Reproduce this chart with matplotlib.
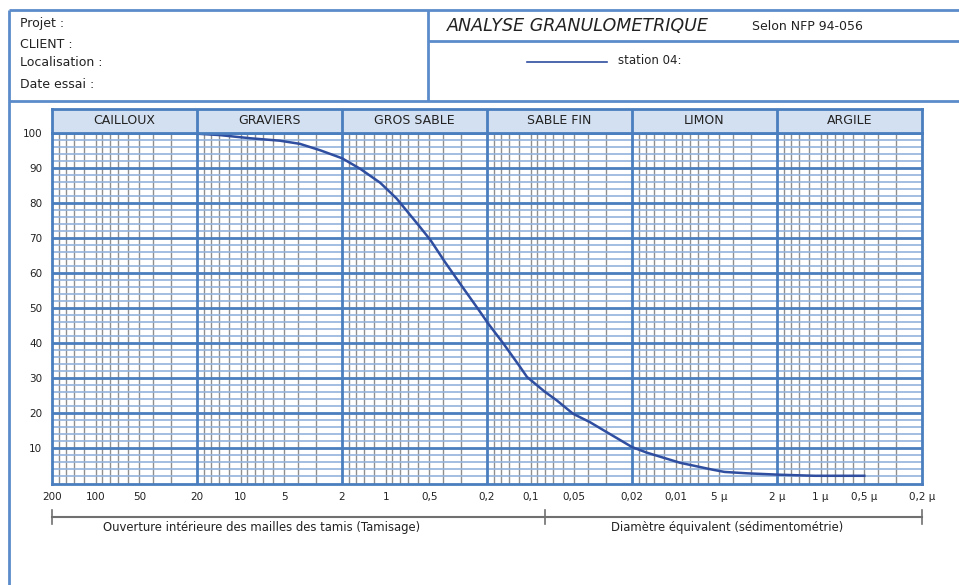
import numpy as np
import matplotlib
matplotlib.use('Agg')
import matplotlib.pyplot as plt
from matplotlib.ticker import NullLocator

# courbe granulometrique - station 04 (diametre en mm, % de passants)
diametres = [20, 13.9, 8.6, 5.35, 3.9, 2.84, 2.0, 1.5, 1.09, 0.84, 0.58, 0.49,
             0.39, 0.29, 0.236, 0.196, 0.154, 0.118, 0.106, 0.08, 0.066, 0.051,
             0.039, 0.030, 0.020, 0.0158, 0.0093, 0.0055, 0.0046, 0.0032, 0.0019,
             0.0011, 0.0005]
passants = [99.8, 99.4, 98.5, 97.8, 96.9, 95.1, 92.8, 89.8, 85.8, 81.3, 73.2, 69.4,
            63.2, 55.6, 50.4, 45.6, 39.9, 33.2, 30.4, 26.2, 23.7, 19.9,
            17.5, 14.7, 10.4, 8.8, 5.9, 3.9, 3.3, 2.9, 2.5,
            2.2, 2.2]

classes = ['CAILLOUX', 'GRAVIERS', 'GROS SABLE', 'SABLE FIN', 'LIMON', 'ARGILE']
bornes = [200, 20, 2, 0.2, 0.02, 0.002, 0.0002]
limite_tamisage = 0.08

graduations = [200, 100, 50, 20, 10, 5, 2, 1, 0.5, 0.2, 0.1, 0.05, 0.02, 0.01,
               0.005, 0.002, 0.001, 0.0005, 0.0002]
etiquettes = ['200', '100', '50', '20', '10', '5', '2', '1', '0,5', '0,2', '0,1',
              '0,05', '0,02', '0,01', '5 µ', '2 µ', '1 µ', '0,5 µ', '0,2 µ']
multiples = [1.5, 2, 2.5, 3, 3.5, 4, 4.5, 5, 6, 7, 8, 9]

BLEU = '#4a7ebf'
BLEU_CLAIR = '#93b3dd'
GRIS = '#8f8f8f'
COURBE = '#2f4ea0'
TEXTE = '#222222'

W, H = 959, 585
fig = plt.figure(figsize=(W / 100, H / 100), dpi=100)

# papier semi-log
ax = fig.add_axes([52 / W, (H - 483.5) / H, 870 / W, 350.5 / H])
ax.set_xscale('log')
ax.set_xlim(bornes[0], bornes[-1])
ax.set_ylim(0, 100)

for b in bornes[1:]:
    for m in multiples:
        ax.axvline(b * m, color=GRIS, lw=1, zorder=1)
for v in range(2, 100, 2):
    if v % 10:
        ax.axhline(v, color=BLEU_CLAIR, lw=1.2, zorder=1.5)
for v in range(10, 100, 10):
    ax.axhline(v, color=BLEU, lw=2, zorder=2)
for b in bornes[1:-1]:
    ax.axvline(b, color=BLEU, lw=2, zorder=2)
for s in ax.spines.values():
    s.set_color(BLEU)
    s.set_linewidth(2)

ax.plot(diametres, passants, color=COURBE, lw=1.8, zorder=3)

ax.xaxis.set_minor_locator(NullLocator())
ax.set_xticks(graduations, etiquettes)
ax.set_yticks(range(10, 101, 10))
ax.tick_params(axis='x', length=0, labelsize=7.5, pad=6, labelcolor=TEXTE)
ax.tick_params(axis='y', length=0, labelsize=7.5, pad=7, labelcolor=TEXTE)

# accolade tamisage / sedimentometrie
tr = ax.get_xaxis_transform()
yb = (483.5 - 517) / 350.5
dy = 7 / 350.5
ax.plot([bornes[0], bornes[-1]], [yb, yb], color='#707070', lw=1.5,
        transform=tr, clip_on=False)
for x in [bornes[0], limite_tamisage, bornes[-1]]:
    ax.plot([x, x], [yb - dy, yb + dy], color='#707070', lw=1.2,
            transform=tr, clip_on=False)
yc = (483.5 - 527) / 350.5
ax.text(0.241, yc, 'Ouverture intérieure des mailles des tamis (Tamisage)',
        transform=ax.transAxes, ha='center', va='center', fontsize=8.4, color=TEXTE)
ax.text(0.776, yc, 'Diamètre équivalent (sédimentométrie)',
        transform=ax.transAxes, ha='center', va='center', fontsize=8.4, color=TEXTE)

# bandeau des classes granulometriques
bax = fig.add_axes([52 / W, (H - 132.5) / H, 870 / W, 24 / H])
bax.set_xscale('log')
bax.set_xlim(bornes[0], bornes[-1])
bax.set_ylim(0, 1)
bax.set_facecolor('#d3e0f1')
bax.set_xticks([])
bax.set_yticks([])
bax.xaxis.set_minor_locator(NullLocator())
for s in bax.spines.values():
    s.set_color(BLEU)
    s.set_linewidth(2)
for i, nom in enumerate(classes):
    if i > 0:
        bax.axvline(bornes[i], color=BLEU, lw=2)
    centre = np.sqrt(bornes[i] * bornes[i + 1])
    bax.text(centre, 0.5, nom, ha='center', va='center', fontsize=9, color=TEXTE)

# cartouche
ov = fig.add_axes([0, 0, 1, 1])
ov.set_xlim(0, W)
ov.set_ylim(H, 0)
ov.axis('off')
ov.patch.set_alpha(0)
cadre = dict(color='#5b8bca', lw=2, solid_capstyle='butt')
ov.plot([8.5, W], [10, 10], **cadre)
ov.plot([8.5, W], [101, 101], **cadre)
ov.plot([428, W], [41, 41], **cadre)
ov.plot([428, 428], [10, 101], **cadre)
ov.plot([8.5, 8.5], [10, H], **cadre)

for txt, y in [('Projet :', 24), ('CLIENT :', 44), ('Localisation :', 63), ('Date essai :', 84)]:
    ov.text(20, y, txt, ha='left', va='center', fontsize=9, color=TEXTE)
ov.text(447, 26, 'ANALYSE GRANULOMETRIQUE', ha='left', va='center',
        fontsize=12.6, style='italic', color=TEXTE)
ov.text(752, 26, 'Selon NFP 94-056', ha='left', va='center', fontsize=9, color=TEXTE)
ov.plot([527, 607], [62, 62], color=COURBE, lw=1.2)
ov.text(618, 61, 'station 04:', ha='left', va='center', fontsize=8.5, color=TEXTE)

fig.savefig('out.png', dpi=100)
